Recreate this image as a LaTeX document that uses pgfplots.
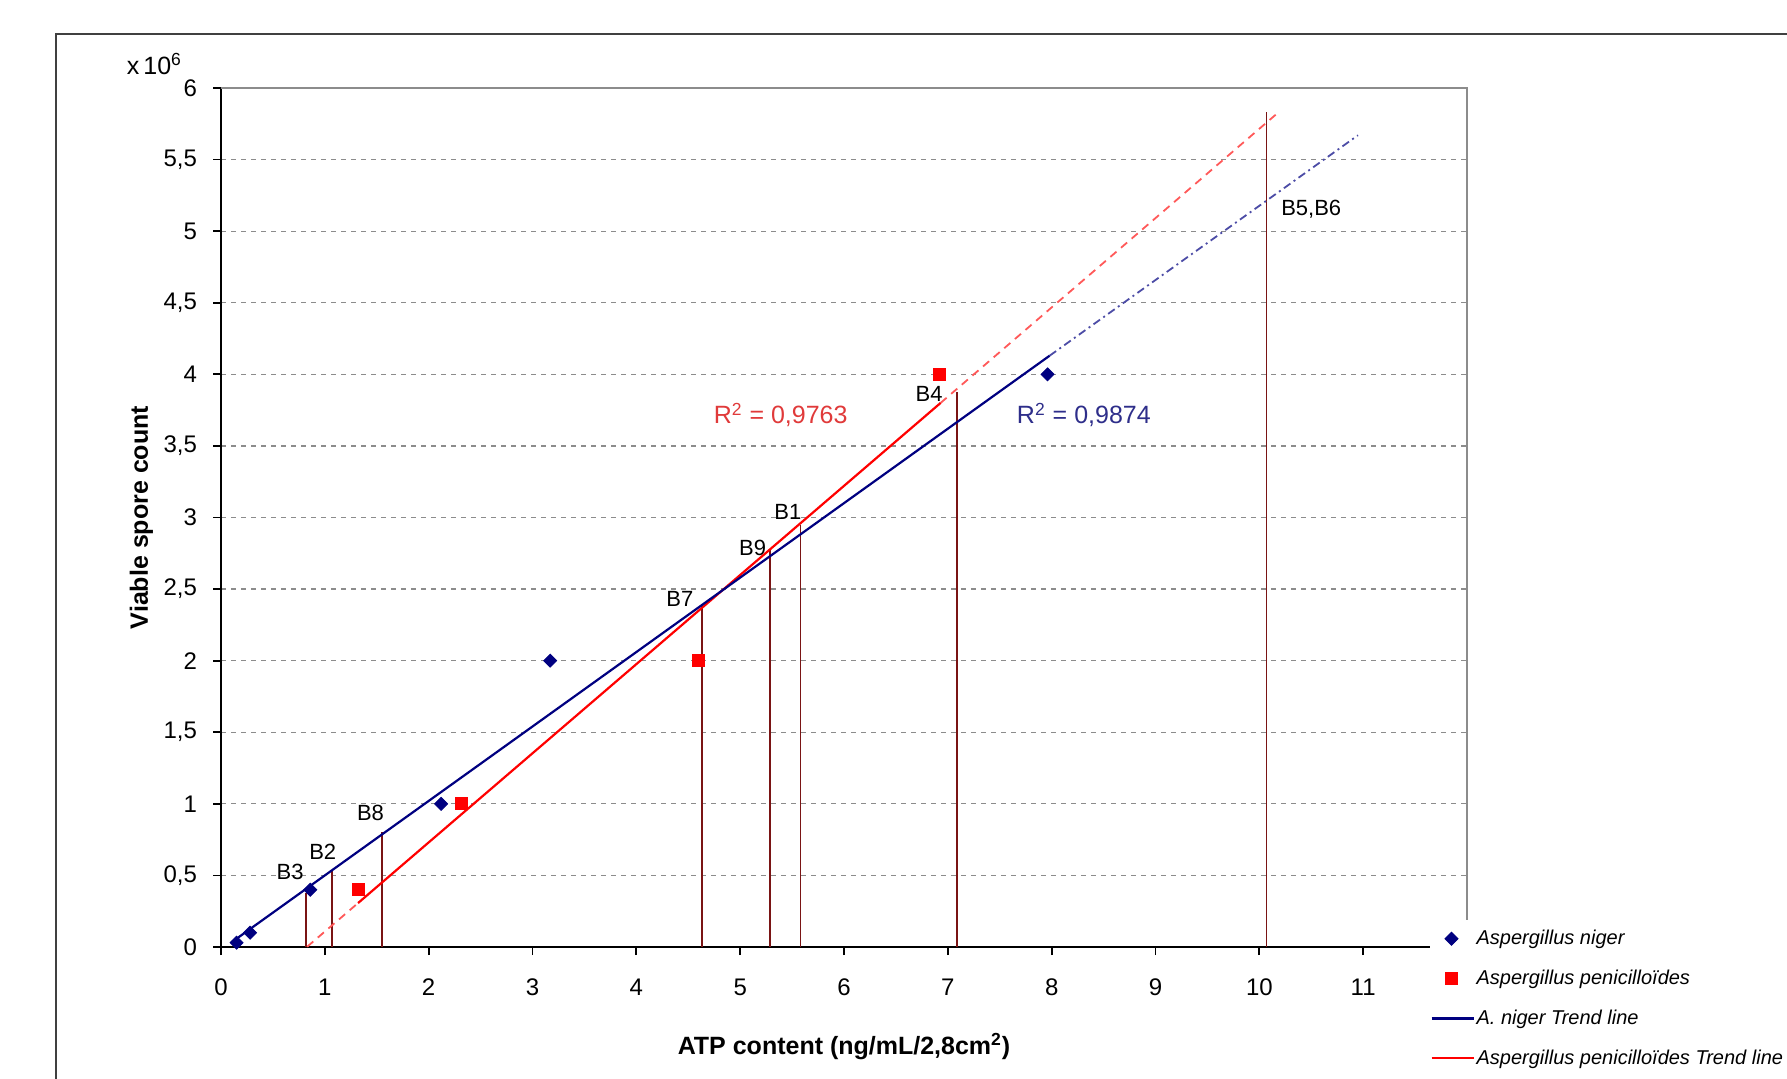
\documentclass[border=0pt]{standalone}
\usepackage{fontspec}
\setmainfont{Liberation Sans}
\usepackage{pgfplots}
\pgfplotsset{compat=1.18}

\definecolor{niger}{HTML}{000080}
\definecolor{penic}{HTML}{FF0000}
\definecolor{vline}{HTML}{7A1414}
\definecolor{gridc}{HTML}{8C8C8C}
\definecolor{rsqred}{HTML}{E03A3A}
\definecolor{rsqblue}{HTML}{2E2E8A}
\tikzset{lab/.style={font=\fontsize{11bp}{13bp}\selectfont}}
\pgfplotsset{
  lineleg/.style={legend image code/.code={\draw[##1] (0bp,0bp) -- (21bp,0bp);}},
  markleg/.style={legend image code/.code={\path (0bp,0bp) (21bp,0bp);
      \draw[##1] plot coordinates {(10bp,0bp)};}},
}

\begin{document}
\begin{tikzpicture}
\useasboundingbox (0,0) rectangle (893.5bp,539.5bp);
% outer chart frame (cut by the page)
\draw[line width=1.3bp, black!75] (28bp,-2bp) -- (28bp,522.5bp) -- (900bp,522.5bp);
\begin{axis}[
    at={(110.5bp,66bp)}, anchor=south west,
    scale only axis, width=623bp, height=429.5bp,
    xmin=0, xmax=12, ymin=0, ymax=6,
    xtick={0,1,...,11}, ytick={0,0.5,...,6},
    axis x line*=bottom, axis y line*=left,
    axis line style={-, line width=0.9bp, black},
    tick align=outside, major tick length=4bp,
    tick style={line width=0.9bp, black},
    ymajorgrids,
    major grid style={gridc, line width=0.6bp, dash pattern=on 2.5bp off 2.5bp},
    ticklabel style={font=\fontsize{12bp}{14bp}\selectfont},
    xticklabel style={yshift=-8.5bp},
    yticklabel style={xshift=-4.5bp},
    /pgf/number format/use comma,
    /pgf/number format/assume math mode=true,
    xlabel={ATP content (ng/mL/2,8cm\textsuperscript{2})},
    ylabel={Viable spore count},
    label style={font=\bfseries\fontsize{12.5bp}{15bp}\selectfont},
    xlabel style={at={(axis description cs:0.5,-0.1158)}, anchor=center},
    ylabel style={at={(axis description cs:-0.0638,0.5)}, anchor=center},
    legend style={at={(0.9703,0.0319)}, anchor=north west, draw=none, fill=white,
      font=\itshape\fontsize{10bp}{12bp}\selectfont,
      inner xsep=0pt, inner ysep=5bp, row sep=11.2bp,
      nodes={inner xsep=1bp, inner ysep=0pt}},
    legend cell align=left,
    reverse legend,
    clip=false,
    vl/.style={color=vline, line width=0.8bp, forget plot},
]

% vertical sample lines
\addplot[vl] coordinates {(0.82,0) (0.82,0.375)};
\addplot[vl] coordinates {(1.07,0) (1.07,0.53)};
\addplot[vl] coordinates {(1.55,0) (1.55,0.80)};
\addplot[vl] coordinates {(4.63,0) (4.63,2.38)};
\addplot[vl] coordinates {(5.29,0) (5.29,2.78)};
\addplot[vl] coordinates {(5.58,0) (5.58,2.95)};
\addplot[vl] coordinates {(7.09,0) (7.09,3.88)};
\addplot[vl] coordinates {(10.07,0) (10.07,5.83)};

% trend line extensions
\addplot[penic!65, line width=0.9bp, dash pattern=on 4bp off 3bp, forget plot]
  coordinates {(0.83,0.002) (1.32,0.307)};
\addplot[penic!65, line width=0.9bp, dash pattern=on 4bp off 3bp, forget plot]
  coordinates {(6.93,3.80) (10.2,5.84)};
\addplot[niger!70, line width=0.9bp, dash pattern=on 4bp off 2bp on 1bp off 2bp, forget plot]
  coordinates {(7.98,4.13) (10.95,5.67)};

% trend lines
\addplot[penic, line width=1.1bp, lineleg]
  coordinates {(1.32,0.307) (6.93,3.80)};
\addlegendentry{Aspergillus penicilloïdes Trend line}
\addplot[niger, line width=1.1bp, lineleg]
  coordinates {(0.10,0.032) (7.98,4.13)};
\addlegendentry{A. niger Trend line}

% measurements
\addplot[only marks, mark=square*, mark size=3bp, color=penic, markleg]
  coordinates {(1.32,0.4) (2.32,1.0) (4.60,2.0) (6.92,4.0)};
\addlegendentry{Aspergillus penicilloïdes}
\addplot[only marks, mark=square*, mark size=2.3bp, mark options={rotate=45}, color=niger, markleg]
  coordinates {(0.15,0.03) (0.28,0.10) (0.86,0.40) (2.12,1.0) (3.17,2.0) (7.96,4.0)};
\addlegendentry{Aspergillus niger}

% plot-area top and right border
\draw[gridc, line width=0.8bp] (rel axis cs:0,1) -- (rel axis cs:1,1) -- (rel axis cs:1,0);

\node[lab] at (axis cs:0.665,0.526) {B3};
\node[lab] at (axis cs:0.98,0.666) {B2};
\node[lab] at (axis cs:1.44,0.934) {B8};
\node[lab] at (axis cs:4.42,2.43) {B7};
\node[lab] at (axis cs:5.12,2.79) {B9};
\node[lab] at (axis cs:5.46,3.04) {B1};
\node[lab] at (axis cs:6.82,3.86) {B4};
\node[lab] at (axis cs:10.50,5.15) {B5,B6};

\node[text=rsqred, font=\fontsize{12.5bp}{15bp}\selectfont] at (axis cs:5.39,3.717) {R\textsuperscript{2} = 0,9763};
\node[text=rsqblue, font=\fontsize{12.5bp}{15bp}\selectfont] at (axis cs:8.31,3.717) {R\textsuperscript{2} = 0,9874};

\node[anchor=base east, xshift=-16bp, yshift=7bp, font=\fontsize{12.5bp}{14bp}\selectfont]
  at (rel axis cs:0,1) {x\,10\textsuperscript{6}};
\end{axis}
\end{tikzpicture}
\end{document}
